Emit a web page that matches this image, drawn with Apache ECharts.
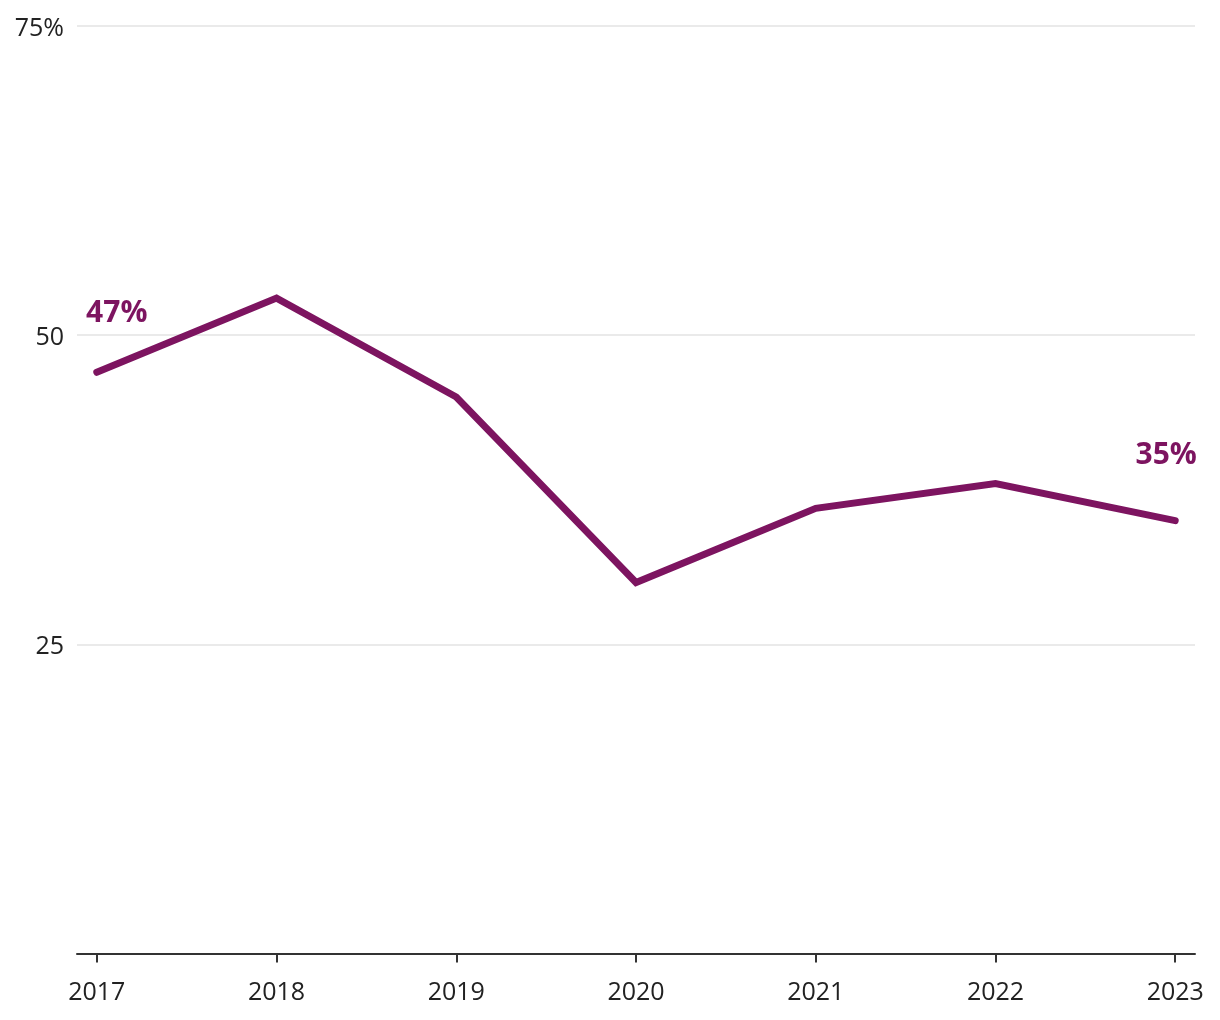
<!DOCTYPE html>
<html>
<head>
<meta charset="utf-8">
<script src="https://cdn.jsdelivr.net/npm/echarts@6/dist/echarts.min.js"></script>
<style>
html,body{margin:0;padding:0;background:#fff;}
#chart{width:1220px;height:1020px;}
</style>
</head>
<body>
<div id="chart"></div>
<script>
const years = [2017, 2018, 2019, 2020, 2021, 2022, 2023];
const shares = [47, 53, 45, 30, 36, 38, 35];
const yTicks = [0, 25, 50, 75];
const labelledYears = [2017, 2023];

const FONT = '"Open Sans", sans-serif';
const LINE = '#7d1460';

const labelData = years.map((y, i) => [y, shares[i]]).filter(d => labelledYears.includes(d[0]));

const chart = echarts.init(document.getElementById('chart'), null, { renderer: 'canvas' });
chart.setOption({
  animation: false,
  grid: { left: 77, right: 25, top: 26, bottom: 66.5, containLabel: false },
  xAxis: {
    type: 'value',
    min: 2016.89,
    max: 2023.11,
    splitLine: { show: false },
    axisLine: { show: true, onZero: false, lineStyle: { color: '#333', width: 2 } },
    axisTick: { show: true, length: 9, lineStyle: { color: '#333', width: 2 }, customValues: years },
    axisLabel: {
      customValues: years,
      formatter: v => String(v),
      color: '#222', fontSize: 25, fontFamily: FONT, margin: 27
    }
  },
  yAxis: {
    type: 'value',
    min: 0,
    max: 75,
    interval: 25,
    axisLine: { show: false },
    axisTick: { show: false },
    splitLine: { show: true, lineStyle: { color: '#e3e3e3', width: 1.5 } },
    axisLabel: {
      formatter: v => v === 0 ? '' : (v === 75 ? v + '%' : String(v)),
      color: '#222', fontSize: 25, fontFamily: FONT, margin: 13,
      verticalAlign: 'top', lineHeight: 25, padding: [-10, 0, 0, 0]
    }
  },
  series: [{
    type: 'line',
    data: years.map((y, i) => [y, shares[i]]),
    symbol: 'none',
    lineStyle: { color: LINE, width: 7, cap: 'round', join: 'miter' },
    z: 2
  }, {
    type: 'scatter',
    data: labelData,
    symbolSize: 1,
    itemStyle: { color: 'rgba(0,0,0,0)', opacity: 1 },
    z: 3,
    label: {
      show: true,
      position: 'top',
      color: LINE, opacity: 1, fontSize: 30, fontWeight: 'bold', fontFamily: FONT,
      formatter: p => p.value[1] + '%'
    },
    labelLayout: p => p.dataIndex === 0 ? { dx: 20, dy: -38 } : { dx: -9, dy: -45 }
  }]
});
</script>
</body>
</html>
